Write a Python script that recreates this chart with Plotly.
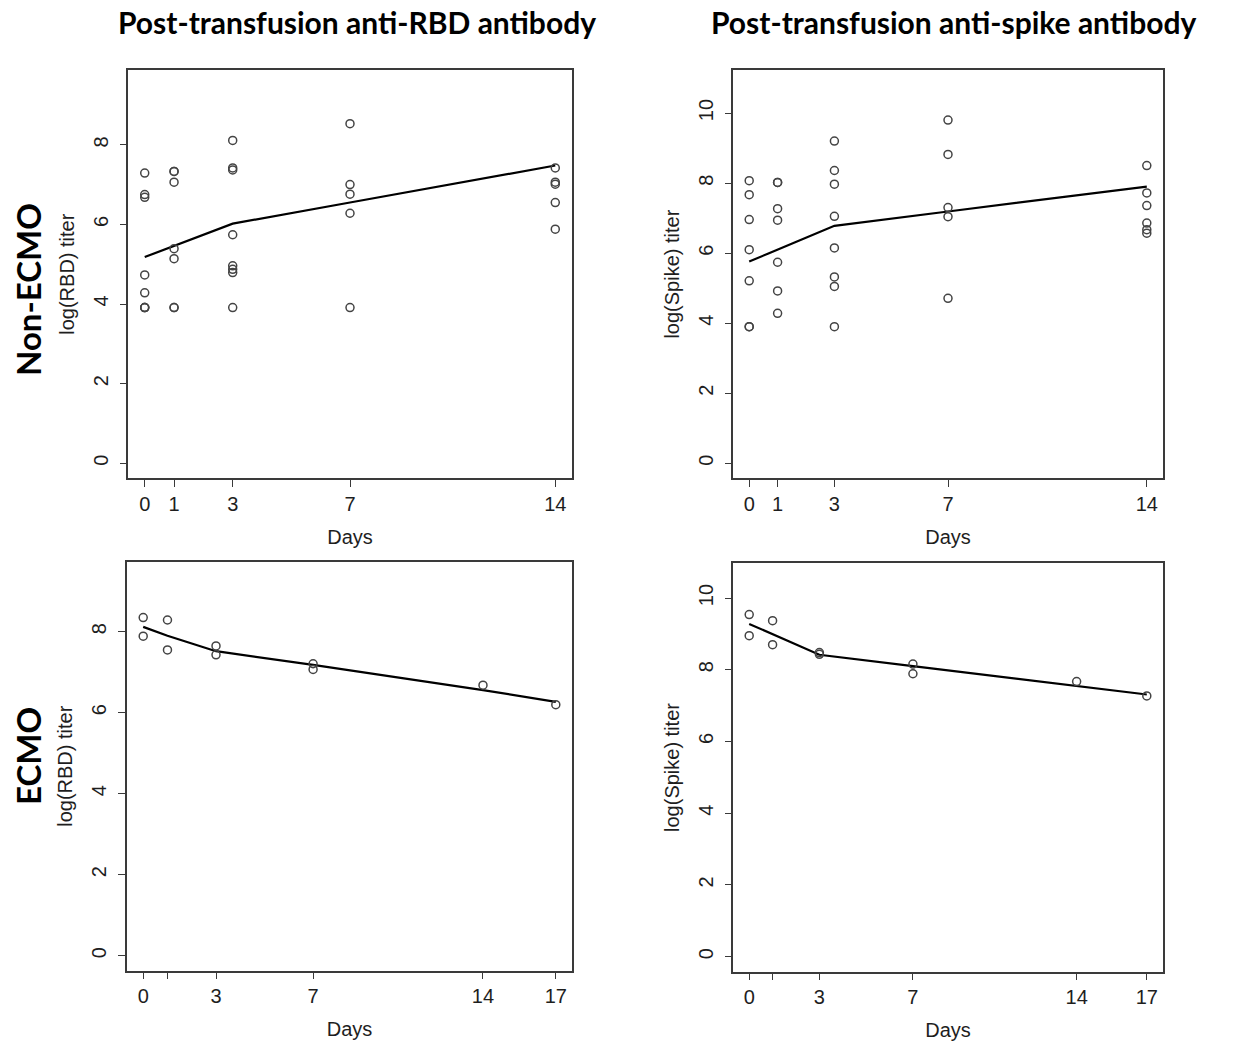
import plotly.graph_objects as go

W, H = 1249, 1041

# ---------------- data ----------------
# Non-ECMO, anti-RBD
non_rbd_days = [0]*8 + [1]*7 + [3]*8 + [7]*5 + [14]*5
non_rbd_vals = [7.29, 6.75, 6.68, 4.73, 4.28, 3.91, 3.91, 3.91,
                7.33, 7.33, 7.06, 5.39, 5.14, 3.91, 3.91,
                8.11, 7.42, 7.37, 5.74, 4.96, 4.87, 4.79, 3.91,
                8.53, 7.00, 6.76, 6.28, 3.91,
                7.42, 7.06, 7.01, 6.55, 5.88]
non_rbd_fit_days = [0, 1, 3, 7, 14]
non_rbd_fit_vals = [5.18, 5.46, 6.02, 6.55, 7.48]

# Non-ECMO, anti-spike
non_spike_days = [0]*7 + [1]*7 + [3]*8 + [7]*5 + [14]*6
non_spike_vals = [8.07, 7.67, 6.96, 6.10, 5.21, 3.90, 3.90,
                  8.02, 8.02, 7.27, 6.94, 5.74, 4.92, 4.28,
                  9.20, 8.36, 7.97, 7.05, 6.15, 5.32, 5.05, 3.90,
                  9.80, 8.82, 7.30, 7.04, 4.71,
                  8.50, 7.72, 7.36, 6.86, 6.67, 6.57]
non_spike_fit_days = [0, 1, 3, 7, 14]
non_spike_fit_vals = [5.76, 6.10, 6.78, 7.19, 7.90]

# ECMO, anti-RBD
ecmo_rbd_days = [0, 0, 1, 1, 3, 3, 7, 7, 14, 17]
ecmo_rbd_vals = [8.35, 7.89, 8.29, 7.55, 7.65, 7.43, 7.21, 7.07, 6.68, 6.20]
ecmo_rbd_fit_days = [0, 1, 3, 7, 14, 17]
ecmo_rbd_fit_vals = [8.12, 7.90, 7.52, 7.18, 6.56, 6.27]

# ECMO, anti-spike
ecmo_spike_days = [0, 0, 1, 1, 3, 3, 7, 7, 14, 17]
ecmo_spike_vals = [9.54, 8.95, 9.37, 8.70, 8.48, 8.43, 8.16, 7.89, 7.67, 7.27]
ecmo_spike_fit_days = [0, 1, 3, 7, 14, 17]
ecmo_spike_fit_vals = [9.28, 9.00, 8.42, 8.10, 7.56, 7.31]

# tick labels
x_ticks_non = [0, 1, 3, 7, 14]
x_ticktext_non = ["0", "1", "3", "7", "14"]
x_ticks_ecmo = [0, 1, 3, 7, 14, 17]
x_ticktext_ecmo = ["0", "", "3", "7", "14", "17"]
y_ticks_rbd = [0, 2, 4, 6, 8]
y_ticks_spike = [0, 2, 4, 6, 8, 10]

col_titles = ["Post-transfusion anti-RBD antibody", "Post-transfusion anti-spike antibody"]
row_titles = ["Non-ECMO", "ECMO"]

# ---------------- layout helpers ----------------
def px_dom_x(a, b):
    return [a / W, b / W]

def px_dom_y(top, bottom):
    return [1 - bottom / H, 1 - top / H]

panels = [
    dict(pts=(non_rbd_days, non_rbd_vals), fit=(non_rbd_fit_days, non_rbd_fit_vals),
         box=(128.3, 571.7, 70, 478.3), xr=[-0.56, 14.56], yr=[-0.38, 9.88],
         xt=(x_ticks_non, x_ticktext_non), yt=y_ticks_rbd, ytitle="log(RBD) titer"),
    dict(pts=(non_spike_days, non_spike_vals), fit=(non_spike_fit_days, non_spike_fit_vals),
         box=(733.3, 1162.7, 70, 478.3), xr=[-0.56, 14.56], yr=[-0.43, 11.23],
         xt=(x_ticks_non, x_ticktext_non), yt=y_ticks_spike, ytitle="log(Spike) titer"),
    dict(pts=(ecmo_rbd_days, ecmo_rbd_vals), fit=(ecmo_rbd_fit_days, ecmo_rbd_fit_vals),
         box=(126.7, 572.3, 561.7, 970.7), xr=[-0.68, 17.68], yr=[-0.37, 9.73],
         xt=(x_ticks_ecmo, x_ticktext_ecmo), yt=y_ticks_rbd, ytitle="log(RBD) titer"),
    dict(pts=(ecmo_spike_days, ecmo_spike_vals), fit=(ecmo_spike_fit_days, ecmo_spike_fit_vals),
         box=(733.3, 1162.7, 563.3, 971.7), xr=[-0.68, 17.68], yr=[-0.42, 10.97],
         xt=(x_ticks_ecmo, x_ticktext_ecmo), yt=y_ticks_spike, ytitle="log(Spike) titer"),
]

AXIS_COLOR = "#3a3a3a"
TICK_FONT = dict(family="Liberation Sans, Arial, sans-serif", size=20, color="#1e1e1e")
TITLE_FONT = dict(family="Liberation Sans, Arial, sans-serif", size=20, color="#1e1e1e")

fig = go.Figure()
layout = dict(width=W, height=H, margin=dict(l=0, r=0, t=0, b=0),
              paper_bgcolor="white", plot_bgcolor="white", showlegend=False)

for i, p in enumerate(panels, start=1):
    xa = "x" if i == 1 else f"x{i}"
    ya = "y" if i == 1 else f"y{i}"
    fig.add_trace(go.Scatter(x=p["fit"][0], y=p["fit"][1], mode="lines",
                             line=dict(color="black", width=2.2),
                             xaxis=xa, yaxis=ya, hoverinfo="skip"))
    fig.add_trace(go.Scatter(x=p["pts"][0], y=p["pts"][1], mode="markers",
                             marker=dict(symbol="circle-open", size=8,
                                         color="#444444", line=dict(width=1.5)),
                             xaxis=xa, yaxis=ya))
    l, r, t, b = p["box"]
    xkey = "xaxis" if i == 1 else f"xaxis{i}"
    ykey = "yaxis" if i == 1 else f"yaxis{i}"
    layout[xkey] = dict(domain=px_dom_x(l, r), range=p["xr"], anchor=ya,
                        tickmode="array", tickvals=p["xt"][0], ticktext=p["xt"][1],
                        ticks="outside", ticklen=7, tickwidth=1.3, tickcolor=AXIS_COLOR,
                        showline=True, linecolor=AXIS_COLOR, linewidth=1.5, mirror=True,
                        showgrid=False, zeroline=False, tickfont=TICK_FONT,
                        title=dict(text="Days", font=TITLE_FONT, standoff=16))
    layout[ykey] = dict(domain=px_dom_y(t, b), range=p["yr"], anchor=xa,
                        tickmode="array", tickvals=p["yt"], tickangle=-90,
                        ticks="outside", ticklen=7, tickwidth=1.3, tickcolor=AXIS_COLOR,
                        showline=True, linecolor=AXIS_COLOR, linewidth=1.5, mirror=True,
                        showgrid=False, zeroline=False, tickfont=TICK_FONT,
                        ticklabelstandoff=4,
                        title=dict(text=p["ytitle"], font=TITLE_FONT, standoff=10))

annotations = []
for txt, cx in zip(col_titles, [357, 953]):
    annotations.append(dict(text=f"<b>{txt}</b>", x=cx / W, y=1 - 22 / H, xref="paper", yref="paper",
                            showarrow=False, xanchor="center", yanchor="middle",
                            font=dict(family="Lato, Open Sans, sans-serif", size=30, color="black")))
for txt, cy in zip(row_titles, [290, 756]):
    annotations.append(dict(text=f"<b>{txt}</b>", x=28 / W, y=1 - cy / H, xref="paper", yref="paper",
                            showarrow=False, xanchor="center", yanchor="middle", textangle=-90,
                            font=dict(family="Lato, Open Sans, sans-serif", size=33, color="black")))
layout["annotations"] = annotations

fig.update_layout(**layout)
fig.write_html("out.html")
